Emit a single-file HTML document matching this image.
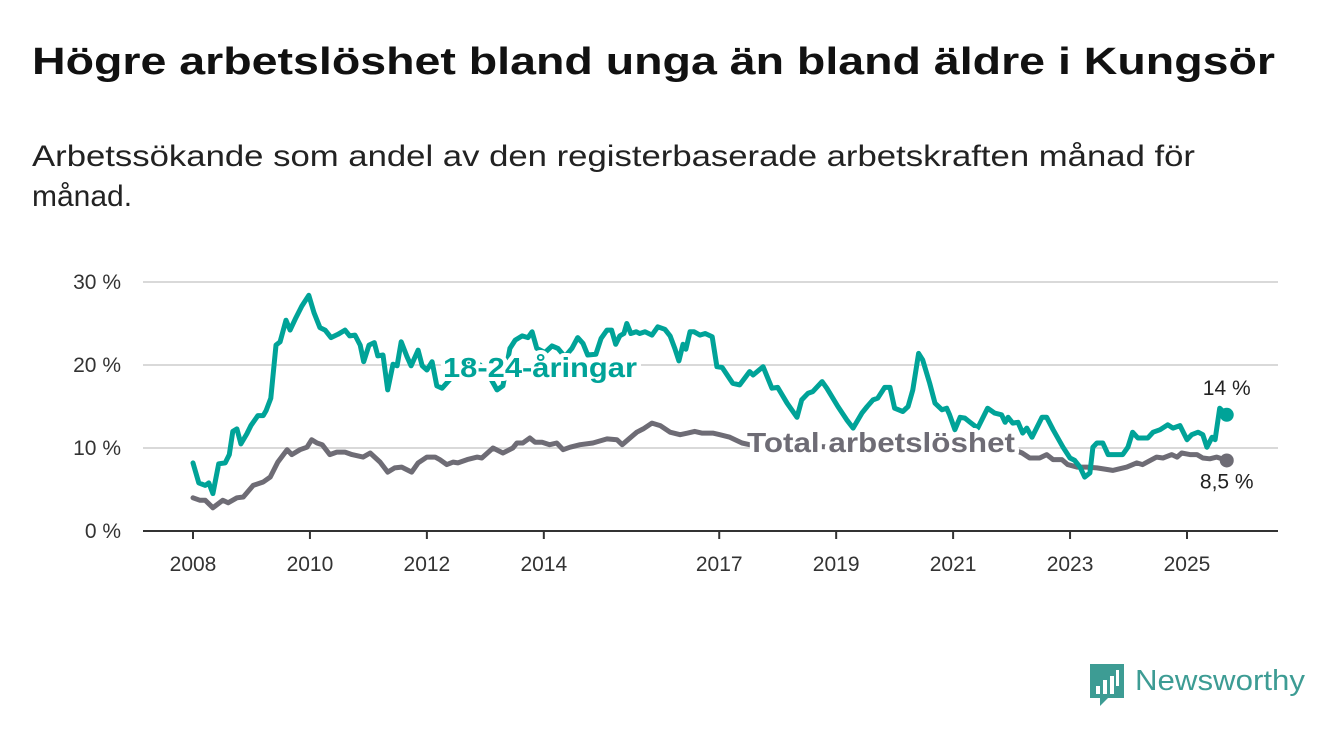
<!DOCTYPE html>
<html><head><meta charset="utf-8">
<style>
html,body{margin:0;padding:0;background:#fff;}
svg{display:block;font-family:"Liberation Sans",sans-serif;}
</style></head>
<body>
<svg id="chart" width="1340" height="734" viewBox="0 0 1340 734" xmlns="http://www.w3.org/2000/svg">
<text x="32" y="74" font-size="38" font-weight="bold" fill="#111" textLength="1243" lengthAdjust="spacingAndGlyphs">Högre arbetslöshet bland unga än bland äldre i Kungsör</text>
<text x="32" y="166" font-size="30" fill="#222" textLength="1163" lengthAdjust="spacingAndGlyphs">Arbetssökande som andel av den registerbaserade arbetskraften månad för</text>
<text x="32" y="206" font-size="30" fill="#222">månad.</text>
<g id="grid"></g>
<g id="series"></g>
<g id="labels"></g>
<g>
<path d="M1090 664 h34 v34 h-16 l-8 8 v-8 h-10 z" fill="#3d9c94"/>
<rect x="1096" y="686" width="4" height="8" fill="#fff"/><rect x="1103" y="680" width="4" height="14" fill="#fff"/><rect x="1110" y="676" width="4" height="18" fill="#fff"/><rect x="1116" y="670" width="3" height="16" fill="#fff"/>
<text x="1135" y="690" font-size="29" fill="#3d9c94" textLength="170" lengthAdjust="spacingAndGlyphs">Newsworthy</text>
</g>
</svg>
<script>
const yTicks = [0, 10, 20, 30];
const yTickLabels = ["0 %", "10 %", "20 %", "30 %"];
const xTicks = [2008, 2010, 2012, 2014, 2017, 2019, 2021, 2023, 2025];
const youthDates = [2008.00,2008.10,2008.21,2008.27,2008.34,2008.44,2008.55,2008.62,2008.68,2008.75,2008.82,2008.92,2008.99,2009.11,2009.20,2009.25,2009.33,2009.42,2009.49,2009.59,2009.66,2009.76,2009.86,2009.98,2010.07,2010.17,2010.26,2010.36,2010.48,2010.60,2010.68,2010.77,2010.86,2010.92,2011.01,2011.10,2011.16,2011.25,2011.33,2011.42,2011.49,2011.56,2011.66,2011.73,2011.85,2011.92,2012.00,2012.09,2012.17,2012.26,2012.41,2012.57,2012.74,2012.91,2013.08,2013.20,2013.30,2013.42,2013.51,2013.63,2013.73,2013.80,2013.88,2014.02,2014.14,2014.24,2014.36,2014.48,2014.58,2014.67,2014.75,2014.89,2014.98,2015.08,2015.16,2015.23,2015.30,2015.37,2015.42,2015.49,2015.58,2015.64,2015.73,2015.85,2015.95,2016.07,2016.16,2016.24,2016.31,2016.38,2016.43,2016.50,2016.57,2016.67,2016.76,2016.88,2016.96,2017.05,2017.23,2017.35,2017.52,2017.58,2017.75,2017.90,2018.00,2018.16,2018.33,2018.41,2018.52,2018.60,2018.76,2018.84,2019.03,2019.18,2019.29,2019.44,2019.53,2019.63,2019.71,2019.83,2019.92,2020.00,2020.14,2020.23,2020.31,2020.41,2020.48,2020.60,2020.69,2020.81,2020.89,2020.94,2021.03,2021.12,2021.20,2021.29,2021.42,2021.59,2021.71,2021.83,2021.89,2021.94,2022.02,2022.11,2022.19,2022.26,2022.35,2022.52,2022.60,2022.71,2022.88,2023.00,2023.08,2023.17,2023.25,2023.34,2023.39,2023.46,2023.56,2023.65,2023.90,2023.99,2024.07,2024.16,2024.33,2024.42,2024.54,2024.67,2024.76,2024.88,2025.00,2025.08,2025.19,2025.27,2025.34,2025.43,2025.48,2025.56,2025.68];
const youthValues = [8.2,5.8,5.5,5.8,4.5,8.1,8.2,9.2,12.0,12.3,10.5,11.7,12.7,13.9,13.9,14.5,16.0,22.4,22.8,25.4,24.2,25.7,27.1,28.4,26.3,24.5,24.2,23.3,23.7,24.2,23.5,23.6,22.4,20.4,22.4,22.7,21.1,21.2,17.0,20.1,19.9,22.8,21.0,19.9,21.8,19.9,19.4,20.4,17.5,17.2,18.4,19.5,20.5,20.0,18.5,17.0,17.5,22.0,23.0,23.5,23.3,24.0,22.0,21.5,22.3,22.0,21.0,22.0,23.3,22.6,21.2,21.3,23.2,24.2,24.2,22.5,23.5,23.8,25.0,23.8,24.0,23.8,24.0,23.6,24.6,24.3,23.5,22.0,20.5,22.5,21.9,24.0,24.0,23.6,23.8,23.4,19.8,19.7,17.8,17.6,19.2,18.8,19.8,17.2,17.3,15.4,13.7,15.8,16.6,16.8,18.0,17.2,15.0,13.4,12.4,14.2,15.0,15.8,16.0,17.3,17.3,14.8,14.4,15.0,17.0,21.4,20.6,17.8,15.4,14.6,14.8,14.0,12.2,13.7,13.6,13.1,12.4,14.8,14.2,14.0,13.1,13.7,13.0,13.1,11.8,12.4,11.3,13.7,13.7,12.2,10.1,8.8,8.5,7.7,6.5,7.0,10.1,10.6,10.6,9.2,9.2,10.1,11.9,11.2,11.2,11.9,12.2,12.8,12.4,12.7,11.0,11.6,11.9,11.6,10.1,11.3,11.0,14.8,14.0];
const totalDates = [2008.00,2008.12,2008.21,2008.34,2008.51,2008.60,2008.75,2008.86,2009.03,2009.20,2009.32,2009.45,2009.61,2009.69,2009.83,2009.95,2010.03,2010.12,2010.21,2010.34,2010.46,2010.60,2010.72,2010.91,2011.03,2011.20,2011.33,2011.45,2011.57,2011.74,2011.85,2012.00,2012.14,2012.22,2012.34,2012.45,2012.53,2012.69,2012.86,2012.94,2013.13,2013.30,2013.47,2013.54,2013.64,2013.76,2013.85,2013.97,2014.10,2014.22,2014.33,2014.45,2014.62,2014.84,2015.08,2015.25,2015.34,2015.44,2015.59,2015.70,2015.85,2015.99,2016.16,2016.33,2016.46,2016.58,2016.70,2016.89,2017.01,2017.18,2017.39,2017.52,2018.04,2018.55,2019.06,2019.58,2020.09,2020.43,2020.94,2021.46,2021.97,2022.18,2022.31,2022.48,2022.60,2022.71,2022.86,2022.96,2023.12,2023.29,2023.46,2023.73,2023.97,2024.14,2024.24,2024.48,2024.59,2024.74,2024.83,2024.91,2025.05,2025.17,2025.27,2025.39,2025.51,2025.68];
const totalValues = [4.0,3.7,3.7,2.8,3.7,3.4,4.0,4.1,5.5,5.9,6.5,8.3,9.8,9.2,9.8,10.1,11.0,10.6,10.4,9.2,9.5,9.5,9.2,8.9,9.4,8.3,7.1,7.6,7.7,7.1,8.2,8.9,8.9,8.6,8.0,8.3,8.2,8.6,8.9,8.8,10.0,9.4,10.0,10.6,10.6,11.2,10.7,10.7,10.4,10.6,9.8,10.1,10.4,10.6,11.1,11.0,10.4,11.0,11.9,12.3,13.0,12.7,11.9,11.6,11.8,12.0,11.8,11.8,11.6,11.3,10.6,10.4,10.3,10.2,10.1,10.0,10.0,10.6,10.6,10.4,10.0,9.4,8.8,8.8,9.2,8.6,8.6,8.0,7.7,7.7,7.6,7.3,7.7,8.2,8.0,8.9,8.8,9.2,8.9,9.4,9.2,9.2,8.8,8.7,8.9,8.5];
const youthLastLabel = "14 %";
const totalLastLabel = "8,5 %";

const NS = "http://www.w3.org/2000/svg";
const x0 = 143, x1 = 1278, y0 = 531;
function xScale(yr){ return 193 + (yr - 2008) * 58.47; }
function yScale(v){ return y0 - v * 8.3; }
function mk(tag, attrs, parent){ const e=document.createElementNS(NS,tag); for(const k in attrs) e.setAttribute(k,attrs[k]); parent.appendChild(e); return e; }

const grid = document.getElementById('grid');
yTicks.forEach((t,i)=>{
  const l = mk('line',{x1:x0,x2:x1,y1:yScale(t),y2:yScale(t),stroke:t===0?'#333':'#d9d9d9','stroke-width':2},grid);
  
  
  const tx = mk('text',{x:121,y:yScale(t)+7,'font-size':21,'text-anchor':'end',fill:'#333'},grid);
  tx.textContent = yTickLabels[i];
  
  
});
xTicks.forEach(t=>{
  const l = mk('line',{x1:xScale(t),x2:xScale(t),y1:y0,y2:y0+8,stroke:'#333','stroke-width':2},grid);
  
  
  const tx = mk('text',{x:xScale(t),y:571,'font-size':21,'text-anchor':'middle',fill:'#333'},grid);
  tx.textContent = t;
  
  
});

const series = document.getElementById('series');
function drawLine(dates, vals, color, name){
  const d = dates.map((t,i)=>(i?'L':'M')+xScale(t).toFixed(1)+' '+yScale(vals[i]).toFixed(1)).join(' ');
  const p = mk('path',{d:d,fill:'none',stroke:color,'stroke-width':5,'stroke-linejoin':'round','stroke-linecap':'round'},series);
  
  
  const n = dates.length-1;
  const c = mk('circle',{cx:xScale(dates[n]),cy:yScale(vals[n]),r:7,fill:color},series);
  
  
}
drawLine(totalDates,totalValues,'#6e6c75','total-line');
drawLine(youthDates,youthValues,'#00a398','youth-line');

const labels = document.getElementById('labels');
function lab(txt,x,y,size,color,weight,name,anchor,len){
  const attrs = {x:x,y:y,'font-size':size,'font-weight':weight,fill:color,stroke:'#fff','stroke-width':8,'paint-order':'stroke','stroke-linejoin':'round','text-anchor':anchor||'start'};
  if(len){ attrs.textLength=len; attrs.lengthAdjust='spacingAndGlyphs'; }
  const t = mk('text',attrs,labels);
  t.textContent = txt;
  
  
}
lab('18-24-åringar',443,377,28,'#00a398','bold','youth-series-label','start',194);
lab('Total arbetslöshet',747,452,28,'#6e6c75','bold','total-series-label','start',268);
const ny = youthValues.length-1, nt = totalValues.length-1;
lab(youthLastLabel,xScale(youthDates[ny]),yScale(youthValues[ny])-20,21,'#222','normal','youth-last-value','middle');
lab(totalLastLabel,xScale(totalDates[nt]),yScale(totalValues[nt])+28,21,'#222','normal','total-last-value','middle');
</script>
</body></html>
